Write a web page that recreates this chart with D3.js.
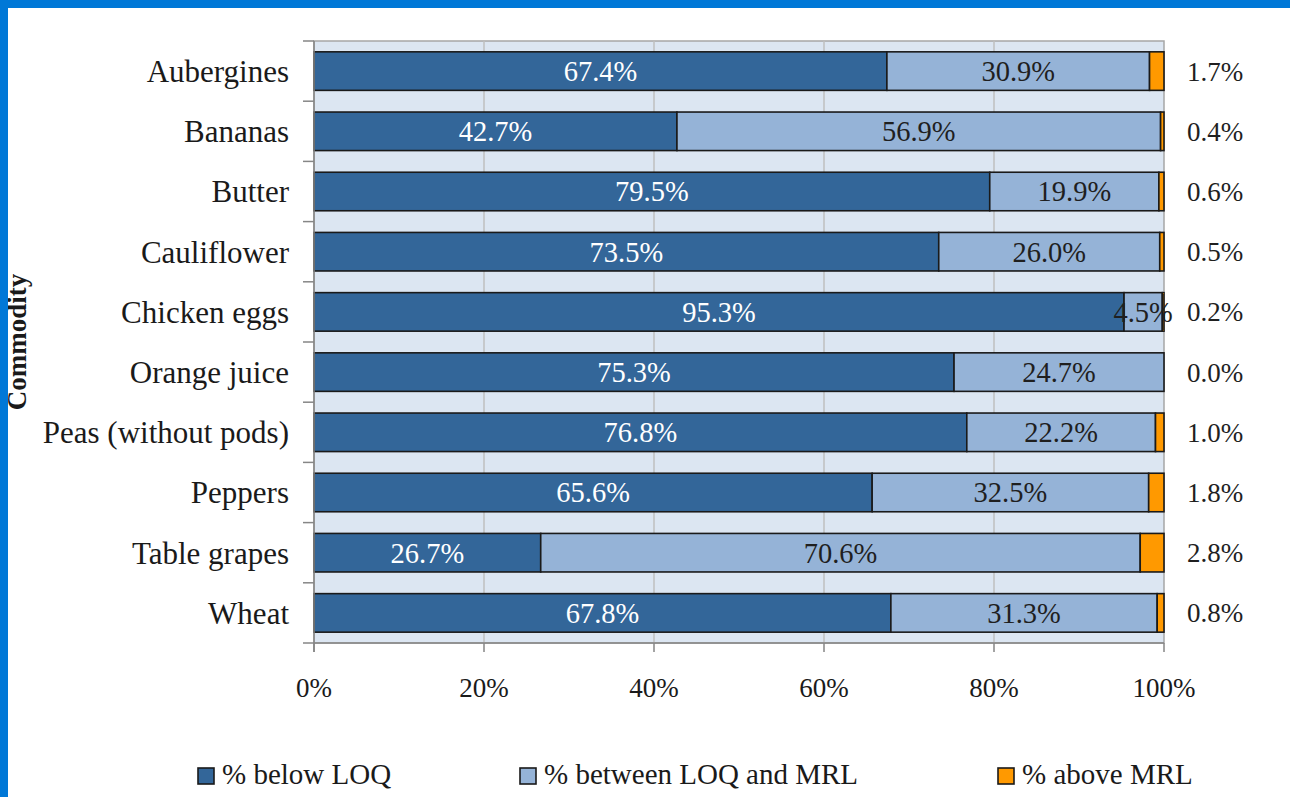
<!DOCTYPE html>
<html>
<head>
<meta charset="utf-8">
<script src="https://cdn.jsdelivr.net/npm/d3@7"></script>
<style>
  body { margin: 0; background: #fff; }
  svg { display: block; font-family: "Liberation Serif", "Times New Roman", serif; }
</style>
</head>
<body>
<div id="chart"></div>
<script>
var W = 1290, H = 797;

var categories = ["Aubergines", "Bananas", "Butter", "Cauliflower", "Chicken eggs",
  "Orange juice", "Peas (without pods)", "Peppers", "Table grapes", "Wheat"];
var belowLOQ   = [67.4, 42.7, 79.5, 73.5, 95.3, 75.3, 76.8, 65.6, 26.7, 67.8];
var betweenLOQ = [30.9, 56.9, 19.9, 26.0, 4.5, 24.7, 22.2, 32.5, 70.6, 31.3];
var aboveMRL   = [1.7, 0.4, 0.6, 0.5, 0.2, 0.0, 1.0, 1.8, 2.8, 0.8];
var seriesNames = ["% below LOQ", "% between LOQ and MRL", "% above MRL"];
var xTicks = [0, 20, 40, 60, 80, 100];

var colors = ["#336699", "#95b3d7", "#ff9900"];

var svg = d3.select("#chart").append("svg")
    .attr("width", W).attr("height", H);

var pLeft = 314, pRight = 1164, pTop = 41, pBottom = 643;

var x = d3.scaleLinear().domain([0, 100]).range([pLeft, pRight]);
var y = d3.scaleBand().domain(categories).range([pTop, pBottom])
    .paddingInner(0.36).paddingOuter(0.18);

// plot background
svg.append("rect")
    .attr("x", pLeft).attr("y", pTop)
    .attr("width", pRight - pLeft).attr("height", pBottom - pTop)
    .attr("fill", "#dce6f2")
    .attr("stroke", "#a6a6a6").attr("stroke-width", 1.5);

// vertical gridlines
svg.selectAll(".grid").data(xTicks.slice(1, -1)).enter().append("line")
    .attr("x1", d => x(d)).attr("x2", d => x(d))
    .attr("y1", pTop).attr("y2", pBottom)
    .attr("stroke", "#bfbfbf").attr("stroke-width", 1.5);

// stacked rows
var rows = categories.map(function(c, i) {
  var vals = [belowLOQ[i], betweenLOQ[i], aboveMRL[i]];
  var tot = d3.sum(vals), acc = 0;
  return vals.map(function(v, k) {
    var s = { cat: c, k: k, v: v, x0: acc / tot * 100, x1: (acc + v) / tot * 100 };
    acc += v;
    return s;
  });
});

var segs = rows.flat();

svg.selectAll(".seg").data(segs.filter(d => d.v > 0)).enter().append("rect")
    .attr("x", d => x(d.x0))
    .attr("y", d => y(d.cat))
    .attr("width", d => x(d.x1) - x(d.x0))
    .attr("height", y.bandwidth())
    .attr("fill", d => colors[d.k])
    .attr("stroke", "#1a1a1a").attr("stroke-width", 1.6);

// labels inside bars
svg.selectAll(".lbl").data(segs.filter(d => d.k < 2)).enter().append("text")
    .attr("x", d => x((d.x0 + d.x1) / 2))
    .attr("y", d => y(d.cat) + y.bandwidth() / 2)
    .attr("dy", "0.35em")
    .attr("text-anchor", "middle")
    .attr("font-size", 28.5)
    .attr("fill", d => d.k === 0 ? "#ffffff" : "#1f1f1f")
    .text(d => d.v.toFixed(1) + "%");

// labels for above MRL to the right
svg.selectAll(".rl").data(segs.filter(d => d.k === 2)).enter().append("text")
    .attr("x", 1215)
    .attr("y", d => y(d.cat) + y.bandwidth() / 2)
    .attr("dy", "0.35em")
    .attr("text-anchor", "middle")
    .attr("font-size", 27)
    .attr("fill", "#1f1f1f")
    .text(d => d.v.toFixed(1) + "%");

// y axis
var yAxis = svg.append("g");
yAxis.append("line")
    .attr("x1", pLeft).attr("x2", pLeft).attr("y1", pTop).attr("y2", pBottom + 9)
    .attr("stroke", "#868686").attr("stroke-width", 1.5);
var bounds = categories.map(c => y(c) - y.step() * y.paddingInner() / 2);
bounds.push(pBottom);
yAxis.selectAll(".yt").data(bounds).enter().append("line")
    .attr("x1", pLeft - 11).attr("x2", pLeft)
    .attr("y1", d => d).attr("y2", d => d)
    .attr("stroke", "#868686").attr("stroke-width", 1.5);
yAxis.selectAll(".yl").data(categories).enter().append("text")
    .attr("x", 289)
    .attr("y", d => y(d) + y.bandwidth() / 2)
    .attr("dy", "0.35em")
    .attr("text-anchor", "end")
    .attr("font-size", 31)
    .attr("fill", "#1a1a1a")
    .text(d => d);

// x axis
var xAxis = svg.append("g");
xAxis.append("line")
    .attr("x1", pLeft).attr("x2", pRight).attr("y1", pBottom).attr("y2", pBottom)
    .attr("stroke", "#868686").attr("stroke-width", 1.5);
xAxis.selectAll(".xt").data(xTicks).enter().append("line")
    .attr("x1", d => x(d)).attr("x2", d => x(d))
    .attr("y1", pBottom).attr("y2", pBottom + 9)
    .attr("stroke", "#868686").attr("stroke-width", 1.5);
xAxis.selectAll(".xl").data(xTicks).enter().append("text")
    .attr("x", d => x(d))
    .attr("y", 697)
    .attr("text-anchor", "middle")
    .attr("font-size", 27)
    .attr("fill", "#1a1a1a")
    .text(d => d + "%");

// axis title
svg.append("text")
    .attr("transform", "translate(26," + ((pTop + pBottom) / 2) + ") rotate(-90)")
    .attr("text-anchor", "middle")
    .attr("font-size", 27)
    .attr("font-weight", "bold")
    .attr("fill", "#1a1a1a")
    .text("Commodity");

// legend
var legX = [198, 520, 998];
var leg = svg.selectAll(".leg").data(seriesNames).enter().append("g")
    .attr("transform", (d, i) => "translate(" + legX[i] + ",768)");
leg.append("rect")
    .attr("width", 16).attr("height", 16)
    .attr("fill", (d, i) => colors[i])
    .attr("stroke", "#1a1a1a").attr("stroke-width", 1.6);
leg.append("text")
    .attr("x", 24).attr("y", 16)
    .attr("font-size", 29)
    .attr("fill", "#1a1a1a")
    .text(d => d);

// blue frame
svg.append("rect").attr("x", 0).attr("y", 0).attr("width", W).attr("height", 8).attr("fill", "#0078d7");
svg.append("rect").attr("x", 0).attr("y", 0).attr("width", 8).attr("height", H).attr("fill", "#0078d7");
</script>
</body>
</html>
